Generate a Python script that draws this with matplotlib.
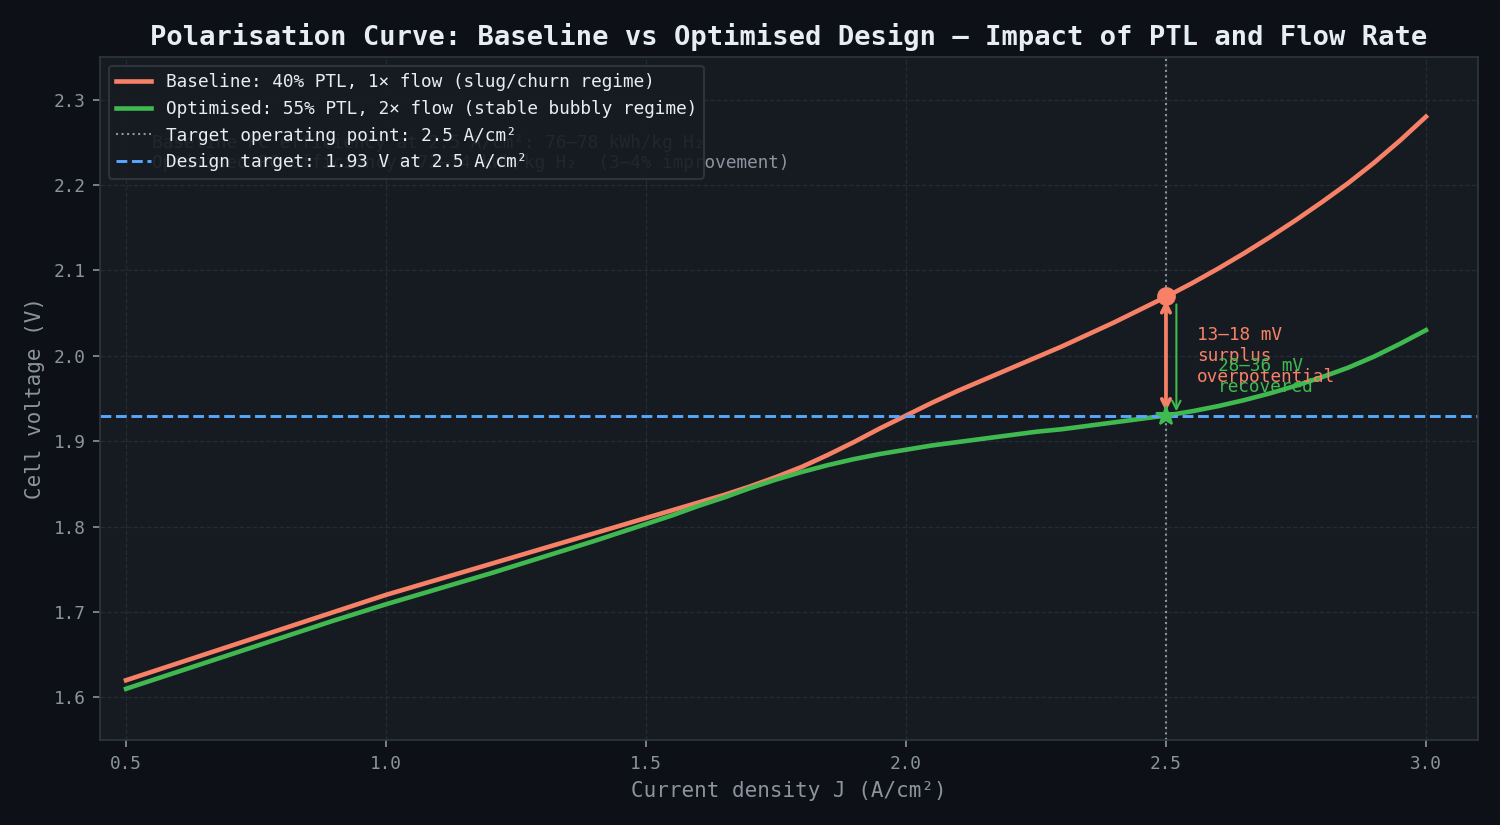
import numpy as np
import matplotlib
matplotlib.use('Agg')
import matplotlib.pyplot as plt

# values (every 0.05 A/cm²)
current_density = [0.50, 0.55, 0.60, 0.65, 0.70, 0.75, 0.80, 0.85, 0.90, 0.95,
                   1.00, 1.05, 1.10, 1.15, 1.20, 1.25, 1.30, 1.35, 1.40, 1.45,
                   1.50, 1.55, 1.60, 1.65, 1.70, 1.75, 1.80, 1.85, 1.90, 1.95,
                   2.00, 2.05, 2.10, 2.15, 2.20, 2.25, 2.30, 2.35, 2.40, 2.45,
                   2.50, 2.55, 2.60, 2.65, 2.70, 2.75, 2.80, 2.85, 2.90, 2.95,
                   3.00]
v_baseline = [1.620, 1.630, 1.640, 1.650, 1.660, 1.670, 1.680, 1.690, 1.700, 1.710,
              1.720, 1.729, 1.738, 1.747, 1.756, 1.765, 1.774, 1.783, 1.792, 1.801,
              1.810, 1.819, 1.828, 1.837, 1.847, 1.858, 1.870, 1.884, 1.899, 1.915,
              1.930, 1.945, 1.959, 1.972, 1.985, 1.998, 2.011, 2.025, 2.039, 2.054,
              2.069, 2.085, 2.102, 2.120, 2.139, 2.159, 2.180, 2.202, 2.226, 2.252,
              2.280]
v_optimised = [1.610, 1.620, 1.630, 1.640, 1.650, 1.660, 1.670, 1.680, 1.690, 1.6995,
               1.709, 1.718, 1.727, 1.736, 1.745, 1.7545, 1.764, 1.7735, 1.783, 1.793,
               1.803, 1.813, 1.824, 1.834, 1.845, 1.855, 1.864, 1.872, 1.879, 1.885,
               1.890, 1.895, 1.899, 1.903, 1.907, 1.911, 1.914, 1.918, 1.922, 1.926,
               1.930, 1.935, 1.941, 1.948, 1.956, 1.965, 1.975, 1.986, 1.999, 2.014,
               2.030]

j_target = 2.5
v_design = 1.93
v_base_at_target = 2.07
v_opt_at_target = 1.93

BG = '#0d1117'
PANEL = '#161b22'
EDGE = '#30363d'
MUTED = '#8b949e'
TEXT = '#e6edf3'
ORANGE = '#f78166'
GREEN = '#3fb950'
BLUE = '#58a6ff'

plt.rcParams['font.family'] = ['DejaVu Sans Mono', 'DejaVu Sans']

fig, ax = plt.subplots(figsize=(10, 5.5), dpi=150)
fig.patch.set_facecolor(BG)
ax.set_facecolor(PANEL)
fig.subplots_adjust(left=0.0667, right=0.9853, bottom=0.103, top=0.931)

ax.plot(current_density, v_baseline, color=ORANGE, lw=2.2,
        label='Baseline: 40% PTL, 1× flow (slug/churn regime)')
ax.plot(current_density, v_optimised, color=GREEN, lw=2.2,
        label='Optimised: 55% PTL, 2× flow (stable bubbly regime)')
ax.axvline(j_target, color=MUTED, ls=':', lw=1,
           label='Target operating point: 2.5 A/cm²')
ax.axhline(v_design, color=BLUE, ls='--', lw=1.4,
           label='Design target: 1.93 V at 2.5 A/cm²')

ax.plot([j_target], [v_base_at_target], 'o', color=ORANGE, ms=8, zorder=5)
ax.plot([j_target], [v_opt_at_target], '*', color=GREEN, ms=10, zorder=5)

# gap arrows
ax.annotate('', xy=(j_target, v_opt_at_target), xytext=(j_target, v_base_at_target),
            arrowprops=dict(arrowstyle='<->', color=ORANGE, lw=1.8))
ax.annotate('', xy=(j_target + 0.02, v_opt_at_target), xytext=(j_target + 0.02, v_base_at_target - 0.005),
            arrowprops=dict(arrowstyle='->', color=GREEN, lw=1.0))
ax.text(2.56, 2.0, '13–18 mV\nsurplus\noverpotential', color=ORANGE,
        fontsize=8.5, va='center', ha='left')
ax.text(2.60, 1.976, '28–36 mV\nrecovered', color=GREEN,
        fontsize=8.5, va='center', ha='left')

ax.text(0.55, 2.2375,
        'Baseline PC efficiency at 2.5 A/cm²: 76–78 kWh/kg H₂\n'
        'Optimised PC efficiency: 72–74 kWh/kg H₂  (3–4% improvement)',
        color=MUTED, fontsize=8.5, va='center', ha='left', zorder=1)

ax.set_xlim(0.45, 3.1)
ax.set_ylim(1.55, 2.35)
ax.set_xticks([0.5, 1.0, 1.5, 2.0, 2.5, 3.0])
ax.set_yticks([1.6, 1.7, 1.8, 1.9, 2.0, 2.1, 2.2, 2.3])

ax.grid(True, color=EDGE, ls='--', lw=0.6, alpha=0.6)
for s in ax.spines.values():
    s.set_color(EDGE)
ax.tick_params(colors=MUTED, labelsize=8.5)

ax.set_xlabel('Current density J (A/cm²)', color=MUTED, fontsize=10)
ax.set_ylabel('Cell voltage (V)', color=MUTED, fontsize=10)
ax.set_title('Polarisation Curve: Baseline vs Optimised Design — Impact of PTL and Flow Rate',
             color=TEXT, fontsize=13, fontweight='bold', pad=5.5)

leg = ax.legend(loc='upper left', fontsize=8.5, facecolor=PANEL, edgecolor=EDGE,
                framealpha=0.9, labelcolor=TEXT)
leg.set_zorder(10)

fig.savefig('out.png', dpi=150, facecolor=BG)
